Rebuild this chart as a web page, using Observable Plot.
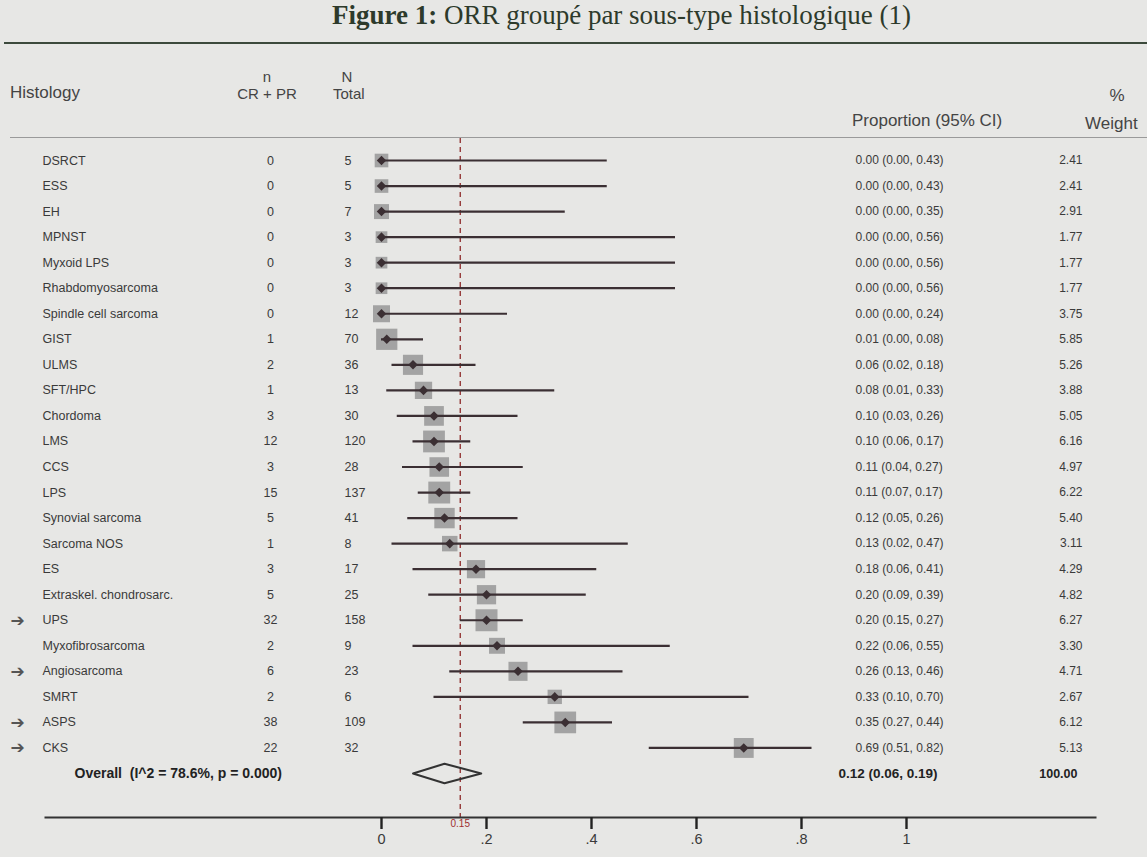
<!DOCTYPE html>
<html><head><meta charset="utf-8">
<script src="https://cdn.jsdelivr.net/npm/d3@7"></script>
<script src="https://cdn.jsdelivr.net/npm/@observablehq/plot@0.6"></script>
<style>
body{margin:0;background:#e7e7e5;font-family:"Liberation Sans",Arial,sans-serif;color:#3a3a3a;}
#page{position:relative;width:1147px;height:857px;overflow:hidden;background:#e7e7e5;}
.t{position:absolute;white-space:nowrap;transform:translateY(-50%);font-size:16px;color:#444;}
.c{transform:translate(-50%,-50%);}
.r{font-size:17px;}
#title{position:absolute;left:48px;width:1147px;top:0px;text-align:center;font-family:"Liberation Serif",serif;font-size:27px;color:#2d3a2b;white-space:nowrap;}
#title b{font-weight:bold;}
#tline{position:absolute;left:4px;width:1143px;top:42px;height:2px;background:#3c4a3c;}
#hline{position:absolute;left:10px;width:1137px;top:137px;height:1px;background:#9a9a9a;}
#chart{position:absolute;left:0;top:129px;}
</style></head>
<body><div id="page">
<div id="title"><b>Figure 1:</b> ORR groupé par sous-type histologique (1)</div>
<div id="tline"></div>
<div class="t" style="left:10px;top:93px;font-size:17px">Histology</div>
<div class="t c" style="left:267px;top:76px;font-size:15px">n</div>
<div class="t c" style="left:267px;top:93px;font-size:15px">CR + PR</div>
<div class="t c" style="left:347px;top:76px;font-size:15px">N</div>
<div class="t" style="left:333px;top:93px;font-size:15px">Total</div>
<div class="t r" style="left:852px;top:121px">Proportion (95% CI)</div>
<div class="t c r" style="left:1117px;top:96px">%</div>
<div class="t r" style="left:1085px;top:124px">Weight</div>
<div id="hline"></div>
<div id="chart"></div>
</div>
<script>
const names = ["DSRCT","ESS","EH","MPNST","Myxoid LPS","Rhabdomyosarcoma","Spindle cell sarcoma","GIST","ULMS","SFT/HPC","Chordoma","LMS","CCS","LPS","Synovial sarcoma","Sarcoma NOS","ES","Extraskel. chondrosarc.","UPS","Myxofibrosarcoma","Angiosarcoma","SMRT","ASPS","CKS"];
const nResp  = [0,0,0,0,0,0,0,1,2,1,3,12,3,15,5,1,3,5,32,2,6,2,38,22];
const nTotal = [5,5,7,3,3,3,12,70,36,13,30,120,28,137,41,8,17,25,158,9,23,6,109,32];
const est    = [0,0,0,0,0,0,0,0.01,0.06,0.08,0.10,0.10,0.11,0.11,0.12,0.13,0.18,0.20,0.20,0.22,0.26,0.33,0.35,0.69];
const lo     = [0,0,0,0,0,0,0,0,0.02,0.01,0.03,0.06,0.04,0.07,0.05,0.02,0.06,0.09,0.15,0.06,0.13,0.10,0.27,0.51];
const hi     = [0.43,0.43,0.35,0.56,0.56,0.56,0.24,0.08,0.18,0.33,0.26,0.17,0.27,0.17,0.26,0.47,0.41,0.39,0.27,0.55,0.46,0.70,0.44,0.82];
const weight = [2.41,2.41,2.91,1.77,1.77,1.77,3.75,5.85,5.26,3.88,5.05,6.16,4.97,6.22,5.40,3.11,4.29,4.82,6.27,3.30,4.71,2.67,6.12,5.13];
const overallLabel = "Overall  (I^2 = 78.6%, p = 0.000)";
const overallEst = 0.12, overallLo = 0.06, overallHi = 0.19, overallWeight = 100.00;
const nullValue = 0.15;
const arrowRows = ["UPS","Angiosarcoma","ASPS","CKS"];
const xTicks = [0,0.2,0.4,0.6,0.8,1];

const rows = names.map((name,i)=>({name,i,n:nResp[i],N:nTotal[i],est:est[i],lo:lo[i],hi:hi[i],w:weight[i]}));
const oi = names.length;
const overall = [{i:oi,label:overallLabel,est:overallEst,lo:overallLo,hi:overallHi,w:overallWeight}];
const h = 0.38;
const diamond = [
  {x:overallLo,y:oi},{x:overallEst,y:oi-h},{x:overallHi,y:oi},{x:overallEst,y:oi+h},{x:overallLo,y:oi}
];
const f2 = d3.format(".2f");
const ci = d => `${f2(d.est)} (${f2(d.lo)}, ${f2(d.hi)})`;
const ML = 45;
const tf = d => d===0?"0":d===1?"1":d3.format(".1f")(d).replace(/^0/,"");

const chart = Plot.plot({
  width:1147, height:717,
  marginLeft:ML, marginRight:52, marginTop:0, marginBottom:29,
  style:{fontFamily:"'Liberation Sans',Arial,sans-serif",fontSize:"12px",background:"transparent",color:"#3a3a3a"},
  x:{domain:[0,1],range:[381,906],axis:null},
  y:{type:"linear",domain:[0,oi],range:[31,644],axis:null},
  r:{type:"sqrt",domain:[0,6.27],range:[0,12.4]},
  marks:[
    Plot.ruleX([nullValue],{stroke:"#8e2b2b",strokeDasharray:"5,4",strokeWidth:1.3,insetTop:9}),
    Plot.frame({anchor:"bottom",stroke:"#333",strokeWidth:2}),
    Plot.axisX({ticks:xTicks,tickFormat:tf,tickSize:12,tickPadding:4,fontSize:14.5,stroke:"#222",strokeWidth:2.4}),
    Plot.text([nullValue],{x:d=>d,frameAnchor:"bottom",dy:9,text:()=>"0.15",fill:"#a03030",fontSize:10}),
    Plot.dot(rows,{x:"est",y:"i",r:"w",symbol:"square",fill:"#9b9b9b",fillOpacity:0.9,stroke:null}),
    Plot.ruleY(rows,{y:"i",x1:"lo",x2:"hi",stroke:"#3b2f33",strokeWidth:2.2}),
    Plot.dot(rows,{x:"est",y:"i",symbol:"diamond2",r:4.3,fill:"#3b2f33",stroke:null}),
    Plot.text(rows,{y:"i",frameAnchor:"left",dx:-3,text:"name",textAnchor:"start",fontSize:12.5,fill:"#3a3a3a"}),
    Plot.text(rows,{y:"i",frameAnchor:"left",dx:225,text:"n",textAnchor:"middle",fontSize:12.5,fill:"#3a3a3a"}),
    Plot.text(rows,{y:"i",frameAnchor:"left",dx:299,text:"N",textAnchor:"start",fontSize:12.5,fill:"#3a3a3a"}),
    Plot.text(rows,{y:"i",frameAnchor:"left",dx:810,text:ci,textAnchor:"start",fontSize:12,fill:"#3a3a3a"}),
    Plot.text(rows,{y:"i",frameAnchor:"left",dx:1037,text:d=>f2(d.w),textAnchor:"end",fontSize:12,fill:"#3a3a3a"}),
    Plot.text(arrowRows,{y:d=>names.indexOf(d),frameAnchor:"left",dx:-35,text:()=>"➔",textAnchor:"start",fontSize:17,fill:"#555",fontFamily:"DejaVu Sans"}),
    Plot.line(diamond,{x:"x",y:"y",stroke:"#333",strokeWidth:2,curve:"linear"}),
    Plot.text(overall,{y:"i",frameAnchor:"left",dx:29,text:"label",textAnchor:"start",fontSize:14,fontWeight:"bold",fill:"#222"}),
    Plot.text(overall,{y:"i",frameAnchor:"left",dx:793,text:ci,textAnchor:"start",fontSize:13.5,fontWeight:"bold",fill:"#222"}),
    Plot.text(overall,{y:"i",frameAnchor:"left",dx:1032,text:d=>f2(d.w),textAnchor:"end",fontSize:12.5,fontWeight:"bold",fill:"#222"})
  ]
});
document.getElementById("chart").appendChild(chart);
</script>
</body></html>
